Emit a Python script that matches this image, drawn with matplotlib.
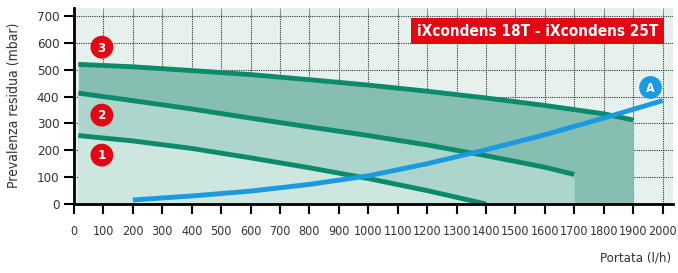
import matplotlib
matplotlib.use('Agg')
import matplotlib.pyplot as plt

# curve data (l/h vs mbar)
x3 = [15, 200, 400, 600, 800, 1000, 1200, 1400, 1600, 1800, 1900]
y3 = [520, 511, 497, 482, 463, 443, 420, 395, 367, 336, 313]
x2 = [15, 200, 400, 600, 800, 1000, 1200, 1400, 1600, 1700]
y2 = [413, 385, 354, 320, 287, 255, 220, 180, 137, 110]
x1 = [15, 200, 400, 600, 800, 1000, 1200, 1400]
y1 = [255, 235, 207, 172, 135, 95, 50, 0]
xa = [200, 400, 600, 800, 1000, 1200, 1400, 1600, 1800, 2000]
ya = [15, 30, 48, 73, 105, 150, 202, 258, 320, 385]

xticks = list(range(0, 2001, 100))
yticks = list(range(0, 701, 100))
title = 'iXcondens 18T - iXcondens 25T'

teal = '#0b8a6c'
blue = '#1a9be0'
red = '#e30613'

plt.rcParams['font.family'] = ['DejaVu Sans']
plt.rcParams['font.stretch'] = 'condensed'

fig = plt.figure(figsize=(6.78, 2.73), dpi=100)
ax = fig.add_axes([0.109, 0.2527, 0.8835, 0.718])
ax.set_facecolor('#e6f1ee')

# fills
ax.fill_between(x3, y3, 0, color='#86bfb1', lw=0, zorder=2)
ax.fill_between(x2, y2, 0, color='#acd5cb', lw=0, zorder=3)
ax.fill_between(x1, y1, 0, color='#cde6df', lw=0, zorder=4)

# curves
for xs, ys in [(x3, y3), (x2, y2), (x1, y1)]:
    ax.plot(xs, ys, color=teal, lw=3.5, zorder=5, solid_capstyle='butt',
            solid_joinstyle='round')
ax.plot(xa, ya, color=blue, lw=3.5, zorder=6, solid_capstyle='butt',
        solid_joinstyle='round')

# numbered markers
for lab, yy in [('1', 182), ('2', 331), ('3', 584)]:
    ax.scatter(95, yy, s=270, color=red, zorder=7, edgecolors='none')
    ax.text(95, yy - 3, lab, color='white', fontsize=9.5, fontweight='bold',
            ha='center', va='center', zorder=8)
ax.scatter(1959, 434, s=270, color=blue, zorder=7, edgecolors='none')
ax.text(1959, 431, 'A', color='white', fontsize=9, fontweight='bold',
        ha='center', va='center', zorder=8)

# title box
ax.text(1985, 644, title, color='white', fontsize=11, fontweight='bold',
        ha='right', va='center', zorder=8,
        bbox=dict(boxstyle='square,pad=0.35', fc=red, ec='none'))

ax.set_xlim(0, 2035)
ax.set_ylim(0, 730)
ax.set_xticks(xticks)
ax.set_yticks(yticks)
ax.tick_params(axis='both', direction='out', length=7, width=1.5,
               labelsize=9.5, labelcolor='#333333', color='black')
ax.tick_params(axis='x', pad=8, labelsize=9)

ax.grid(True, color='#333333', linestyle=(0, (1, 1)), linewidth=0.8, zorder=1)
ax.set_axisbelow(True)

for s in ['top', 'right']:
    ax.spines[s].set_visible(False)
for s in ['left', 'bottom']:
    ax.spines[s].set_linewidth(2)
    ax.spines[s].set_zorder(9)

fig.text(0.02, 0.615, 'Prevalenza residua (mbar)', rotation=90, ha='center',
         va='center', fontsize=10, color='#333333')
fig.text(0.99, 0.055, 'Portata (l/h)', ha='right', va='center',
         fontsize=9.5, color='#333333')

fig.savefig('out.png', dpi=100)
